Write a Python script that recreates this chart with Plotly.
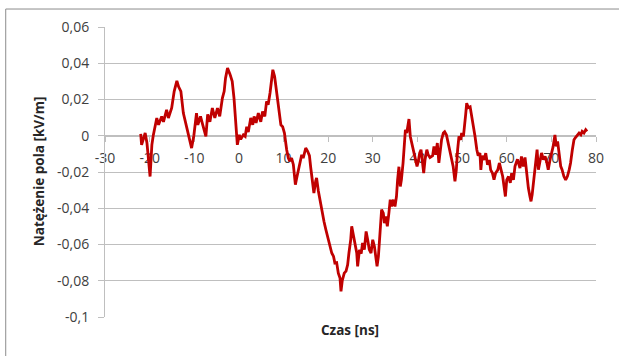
import plotly.graph_objects as go

# Measured field strength over time
czas_ns = [
    -22.0, -21.8, -21.0, -20.6, -19.9, -19.5, -19.2, -18.4, -18.0, -17.3, -16.9, -16.2, -15.8, -15.06,
    -14.5, -13.9, -13.5, -13.0, -12.45, -11.7, -11.3, -10.6, -10.1, -9.5, -9.2, -8.6, -8.1, -7.4, -7.0,
    -6.5, -5.95, -5.4, -4.8, -4.3, -3.7, -3.3, -3.0, -2.55, -2.0, -1.5, -1.1,
    -0.65, -0.35, 0.1, 0.4, 1.0, 1.4, 1.75, 2.1, 2.65, 3.1, 3.4, 3.85, 4.35, 4.9, 5.3, 5.8, 6.2, 6.55,
    6.97, 7.35, 7.6, 8.0, 8.3, 8.6, 9.05, 9.4, 9.8, 10.2, 10.7, 11.07, 11.4, 11.8, 12.2, 12.65, 12.95,
    13.3, 13.7, 14.07, 14.4, 14.97, 15.4, 15.8, 16.1, 16.5, 16.8, 17.2, 17.4, 17.8, 18.2, 18.55, 19.06,
    19.5, 20.0, 20.3, 20.8, 21.2, 21.5, 21.9, 22.27, 22.65, 22.87, 23.15, 23.6, 24.0, 24.36, 24.65,
    25.05, 25.27, 25.65, 26.0, 26.4, 26.6, 27.0, 27.4, 27.7, 28.1, 28.5, 28.85, 29.2, 29.6, 29.98,
    30.35, 30.65, 30.95, 31.25, 31.6, 31.97, 32.35, 32.6, 32.9, 33.25, 33.6, 33.9, 34.2, 34.6, 34.97,
    35.3, 35.55, 35.85, 36.16, 36.4, 36.77, 37.0, 37.3, 37.6, 37.8, 38.1, 38.4, 38.7, 39.0, 39.3, 39.6,
    39.9, 40.2, 40.5, 40.8, 41.1, 41.4, 41.7, 42.1, 42.4, 42.8,
    43.4, 43.7, 44.1, 44.45, 44.8, 45.1, 45.4, 45.8, 46.1, 46.5, 46.9, 47.3, 47.6, 48.0, 48.4, 48.7,
    49.0, 49.3, 49.7, 49.9, 50.3, 50.5, 50.8, 51.03, 51.4, 51.8, 52.15, 52.5, 52.9, 53.3, 53.6, 54.0,
    54.2, 54.5, 54.9, 55.3, 55.7, 56.1, 56.4, 56.8, 57.15, 57.5, 58.0, 58.35, 58.7, 59.1, 59.4, 59.7,
    60.0, 60.4, 60.8, 61.1, 61.5, 61.85,
    62.4, 62.97, 63.3, 63.7, 64.1, 64.5, 64.85, 65.2, 65.44, 65.7, 66.1, 66.5, 66.8, 67.1, 67.5, 67.8,
    68.2, 68.6, 69.0, 69.3, 69.7, 70.05, 70.4, 70.8, 71.1, 71.4, 71.8, 72.1, 72.4, 72.8, 73.2, 73.6,
    74.0, 74.3, 74.7, 75.07, 75.4, 75.8, 76.2, 76.6, 76.9, 77.3, 77.7, 78.0,
]

natezenie_kv_m = [
    0.001, -0.005, 0.0015, -0.004, -0.0225, -0.005, 0.0, 0.0098, 0.006, 0.0107, 0.0077, 0.0143, 0.0098, 0.0153,
    0.0245, 0.0303, 0.027, 0.0245, 0.0125, 0.005, 0.0, -0.0068, 0.0, 0.0125, 0.006, 0.0107, 0.006, -0.0004, 0.0118,
    0.0077, 0.0153, 0.0098, 0.0153, 0.0107, 0.0208, 0.0245, 0.0318, 0.0373, 0.034, 0.030, 0.0208,
    0.008, -0.005, 0.0005, -0.002, 0.0005, -0.0003, 0.005, 0.002, 0.0098, 0.006, 0.0107, 0.0071, 0.0125, 0.0077, 0.0134, 0.0107, 0.019, 0.0171,
    0.0236, 0.0318, 0.0364, 0.0327, 0.0263, 0.0208, 0.0134, 0.006, 0.005, 0.0015, -0.0077, -0.0123, -0.014, -0.0123, -0.016, -0.027, -0.0233,
    -0.0197, -0.016, -0.0105, -0.0123, -0.0068, -0.0086, -0.011, -0.0178, -0.025, -0.0316, -0.025, -0.0233, -0.0305, -0.0362, -0.0417, -0.0473,
    -0.052, -0.0574, -0.061, -0.0647, -0.0666, -0.0702, -0.07, -0.0758, -0.0785, -0.0859, -0.080, -0.0758, -0.0747, -0.0712, -0.0647,
    -0.0574, -0.050, -0.0556, -0.061, -0.0647, -0.0721, -0.063, -0.065, -0.0592, -0.0628, -0.0528, -0.0574, -0.0628, -0.0647, -0.0574,
    -0.061, -0.0684, -0.0721, -0.0666, -0.0537, -0.0408, -0.0427, -0.0482, -0.0445, -0.050, -0.0427, -0.0353, -0.039, -0.0353, -0.039,
    -0.0335, -0.0243, -0.0171, -0.028, -0.0243, -0.0151, -0.004, 0.0033, 0.0015, 0.005, 0.0092, -0.0004, -0.004, -0.006, -0.0114, -0.0141,
    -0.0169, -0.0141, -0.0095, -0.0077, -0.015, -0.0206, -0.0132, -0.0077, -0.0105, -0.012,
    -0.011, -0.0059, -0.0105, -0.004, -0.015, -0.008, -0.0022, 0.0015, 0.0022, 0.0004, -0.004, -0.0095, -0.0132, -0.0169, -0.0252, -0.019,
    -0.0077, -0.0004, -0.0022, 0.0015, -0.0004, 0.0033, 0.0116, 0.018, 0.0155, 0.016, 0.0107, 0.0077, -0.0004, -0.0077, -0.011, -0.0096,
    -0.0188, -0.011, -0.0133, -0.0096, -0.016, -0.0133, -0.0188, -0.0206, -0.0243, -0.0206, -0.0188, -0.015, -0.0188, -0.0225, -0.028, -0.0335,
    -0.0243, -0.0225, -0.026, -0.0206, -0.0243, -0.0169,
    -0.013, -0.0178, -0.0114, -0.017, -0.012, -0.0224, -0.0289, -0.0335, -0.0362, -0.0325, -0.0224, -0.0132, -0.0077, -0.0187, -0.0132, -0.0095,
    -0.0132, -0.0114, -0.015, -0.0188, -0.0132, -0.0095, -0.0059, 0.0005, -0.0059, -0.0031, -0.0114, -0.0169, -0.0187, -0.0224, -0.0243, -0.0224,
    -0.0187, -0.015, -0.0077, -0.0022, -0.001, 0.0, 0.0015, 0.0005, 0.0024, 0.0015, 0.0033, 0.0024,
]

x_tick_vals = [-30, -20, -10, 0, 10, 20, 30, 40, 50, 60, 70, 80]
x_tick_text = ["-30", "-20", "-10", "0", "10", "20", "30", "40", "50", "60", "70", "80"]
y_tick_vals = [-0.1, -0.08, -0.06, -0.04, -0.02, 0, 0.02, 0.04, 0.06]
y_tick_text = ["-0,1", "-0,08", "-0,06", "-0,04", "-0,02", "0", "0,02", "0,04", "0,06"]

x_title = "Czas [ns]"
y_title = "Natężenie pola [kV/m]"

FONT = "Open Sans"
GRID = "#BFBFBF"
TEXT = "#404040"

y_min, y_max = -0.1, 0.06

fig = go.Figure()
fig.add_trace(go.Scatter(
    x=czas_ns, y=natezenie_kv_m, mode="lines",
    line=dict(color="#C00000", width=2.8),
    showlegend=False, hoverinfo="skip",
))

fig.update_layout(
    width=619, height=356,
    margin=dict(l=105, r=23, t=27, b=39),
    paper_bgcolor="white", plot_bgcolor="white",
    font=dict(family=FONT, size=14, color=TEXT),
    xaxis=dict(
        range=[-30, 80], tickvals=x_tick_vals, ticktext=x_tick_text,
        showgrid=False, zeroline=False,
        showline=True, linecolor=GRID, linewidth=1,
        ticks="outside", ticklen=5, tickcolor=GRID, tickwidth=1,
        ticklabelstandoff=4,
        anchor="free", position=(0 - y_min) / (y_max - y_min),
        layer="below traces",
        tickfont=dict(family=FONT, size=14, color=TEXT),
    ),
    yaxis=dict(
        range=[y_min, y_max], tickvals=y_tick_vals, ticktext=y_tick_text,
        showgrid=True, gridcolor=GRID, gridwidth=1,
        zeroline=False,
        showline=True, linecolor=GRID, linewidth=1,
        ticks="outside", ticklen=6, tickcolor=GRID, tickwidth=1,
        ticklabelstandoff=6,
        tickfont=dict(family=FONT, size=14, color=TEXT),
    ),
    annotations=[
        dict(text=f"<b>{x_title}</b>", xref="paper", yref="paper",
             x=0.498, y=-0.046, xanchor="center", yanchor="middle",
             showarrow=False, font=dict(family=FONT, size=13.5, color="#262626")),
        dict(text=f"<b>{y_title}</b>", xref="paper", yref="paper",
             x=-0.1354, y=0.501, xanchor="center", yanchor="middle", textangle=-90,
             showarrow=False, font=dict(family=FONT, size=13.5, color="#262626")),
    ],
    shapes=[
        # chart frame: top and left edges
        dict(type="line", xref="paper", yref="paper", x0=-0.2022, x1=1.1, y0=1.062, y1=1.062,
             line=dict(color="#8C8C8C", width=1)),
        dict(type="line", xref="paper", yref="paper", x0=-0.2022, x1=-0.2022, y0=1.062, y1=-0.3,
             line=dict(color="#8C8C8C", width=1)),
    ],
)

fig.write_html("out.html")
